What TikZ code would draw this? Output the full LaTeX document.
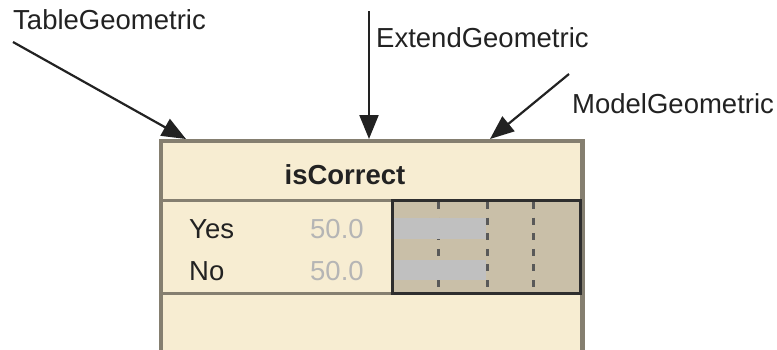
\documentclass[tikz,border=0pt]{standalone}
\usepackage{fontspec}
\setmainfont{Liberation Sans}
\usetikzlibrary{arrows.meta}
\definecolor{cream}{HTML}{F7EDD2}
\definecolor{frame}{HTML}{857F70}
\definecolor{chart}{HTML}{C9BFA8}
\definecolor{barfill}{HTML}{C0C0C0}
\definecolor{numgray}{HTML}{B5B5B5}
\definecolor{ink}{HTML}{222222}
\begin{document}
\begin{tikzpicture}[x=1pt,y=-1pt,
  lbl/.style={font=\fontsize{27.5}{30}\selectfont, inner sep=0, anchor=base west, text=ink},
  arr/.style={draw=ink, line width=2.2pt, -{Triangle[length=24pt,width=19pt]}},
  sep/.style={draw=frame, line width=3pt},
  grid/.style={draw=black!65, line width=3pt, dash pattern=on 7pt off 8.6pt},
  bar/.style={fill=barfill, draw=none, inner sep=0, anchor=north west}]
\useasboundingbox (0,0) rectangle (777,349);
\clip (0,0) rectangle (777,349);
% main box
\node[draw=frame, line width=3pt, fill=cream, minimum width=420pt, minimum height=214pt,
      anchor=north west, inner sep=0] (box) at (160,140) {};
\coordinate (s1l) at (160,200); \coordinate (s1r) at (580,200);
\coordinate (s2l) at (160,293); \coordinate (s2r) at (580,293);
\node[fill=chart, draw=none, minimum width=188pt, minimum height=93pt, anchor=north west, inner sep=0] (chart) at (392,200) {};
% grid lines
\coordinate (g1t) at (438,202); \coordinate (g1b) at (438,291);
\coordinate (g2t) at (487,202); \coordinate (g2b) at (487,291);
\coordinate (g3t) at (533,202); \coordinate (g3b) at (533,291);
\draw[grid] (g1t) -- (g1b);
\draw[grid] (g2t) -- (g2b);
\draw[grid] (g3t) -- (g3b);
% bars
\node[bar, minimum width=94pt, minimum height=21pt] (baryes) at (392,218) {};
\node[bar, minimum width=94pt, minimum height=20pt] (barno) at (392,260) {};
\draw[sep] (s1l) -- (s1r);
\draw[sep] (s2l) -- (s2r);
\draw[draw=black!82, line width=3pt] (chart.north west) rectangle (chart.south east);
\draw[draw=frame, line width=3pt] (box.north west) rectangle (box.south east);
% texts
\node[lbl, font=\fontsize{27.5}{30}\selectfont\bfseries, anchor=base] (title) at (345,184) {isCorrect};
\node[lbl] (yes) at (189,238) {Yes};
\node[lbl] (no) at (189,280) {No};
\node[lbl, text=numgray] (yesv) at (310,238) {50.0};
\node[lbl, text=numgray] (nov) at (310,280) {50.0};
% parent labels
\node[lbl] (tg) at (13,29) {TableGeometric};
\node[lbl] (eg) at (376,47) {ExtendGeometric};
\node[lbl] (mg) at (572,113) {ModelGeometric};
\coordinate (tgs) at (13,42);
\coordinate (egs) at (369,11);
\coordinate (mgs) at (569,74);
\coordinate (tgt) at (186,139);
\coordinate (egt) at (369,139);
\coordinate (mgt) at (490,139);
\draw[arr] (tgs) -- (tgt);
\draw[arr] (egs) -- (egt);
\draw[arr] (mgs) -- (mgt);
\end{tikzpicture}
\end{document}
